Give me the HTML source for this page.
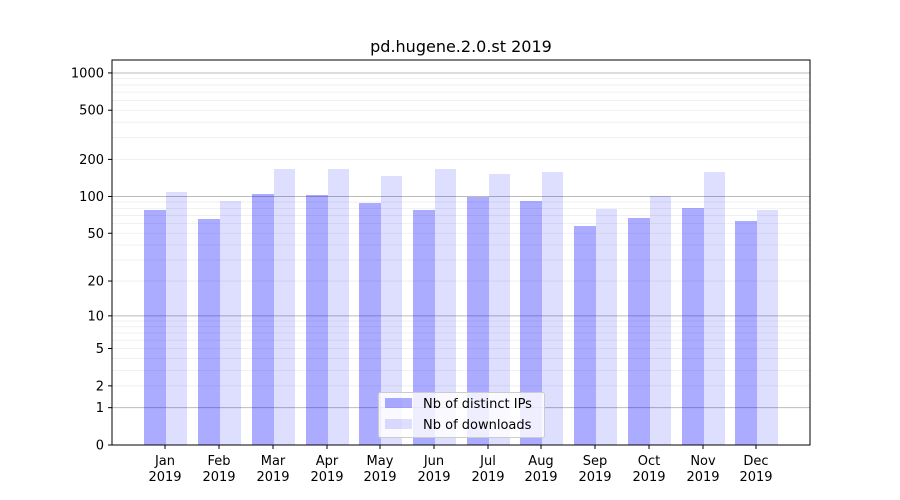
<!DOCTYPE html>
<html><head><meta charset="utf-8"><style>body{margin:0;background:#fff}svg{display:block}text{font-family:"DejaVu Sans","Liberation Sans",sans-serif}</style></head>
<body>
<svg width="900" height="500" xmlns="http://www.w3.org/2000/svg">
<rect width="900" height="500" fill="#fff"/>
<g id="grid"></g>
<g id="bars"></g>
<rect x="112" y="60" width="698" height="385" fill="none" stroke="#000" stroke-width="1"/>
<g id="ticks" font-size="13" fill="#000"></g>
<text x="461" y="52" font-size="16" text-anchor="middle">pd.hugene.2.0.st 2019</text>
<g>
<rect x="378.5" y="392.5" width="166" height="45" rx="2" fill="#fff" fill-opacity="0.8" stroke="#ccc"/>
<rect x="385" y="398" width="27" height="10" fill="rgba(0,0,255,0.33)"/>
<text x="423" y="408" font-size="13">Nb of distinct IPs</text>
<rect x="385" y="419" width="27" height="10" fill="rgba(0,0,255,0.13)"/>
<text x="423" y="429" font-size="13">Nb of downloads</text>
</g>
<script>
var ns="http://www.w3.org/2000/svg";
function Y(v){return 445-124*Math.log10(1+v);}
function el(p,t,a,txt){var e=document.createElementNS(ns,t);for(var k in a)e.setAttribute(k,a[k]);if(txt!==undefined)e.textContent=txt;document.getElementById(p).appendChild(e);return e;}
[1,10,100,1000].forEach(function(d){for(var m=1;m<10;m++){var v=d*m;if(v>1200)break;var y=Y(v);el('grid','line',{x1:112,x2:810,y1:y,y2:y,stroke:m==1?'#bbb':'#eee','stroke-width':m==1?1:0.8});}});
var dk=[210,219,194,195,203,210,197,201,226,218,208,221],lt=[192,201,169,169,176,169,174,172,209,196,172,210];
var cx=[165,219,273,327,380,434,488,541,595,649,703,756];
var mon=['Jan','Feb','Mar','Apr','May','Jun','Jul','Aug','Sep','Oct','Nov','Dec'];
for(var i=0;i<12;i++){
el('bars','rect',{x:cx[i]-21,y:dk[i],width:22,height:445-dk[i],fill:'rgba(0,0,255,0.33)'});
el('bars','rect',{x:cx[i]+1,y:lt[i],width:21,height:445-lt[i],fill:'rgba(0,0,255,0.13)'});
el('ticks','line',{x1:cx[i],x2:cx[i],y1:445,y2:449,stroke:'#000'});
el('ticks','text',{x:cx[i],y:465,'text-anchor':'middle'},mon[i]);
el('ticks','text',{x:cx[i],y:481,'text-anchor':'middle'},'2019');
}
[0,1,2,5,10,20,50,100,200,500,1000].forEach(function(v){var y=Y(v);
el('ticks','line',{x1:108,x2:112,y1:y,y2:y,stroke:'#000'});
el('ticks','text',{x:104,y:y+4.5,'text-anchor':'end'},String(v));});
</script>
</svg>
</body></html>
